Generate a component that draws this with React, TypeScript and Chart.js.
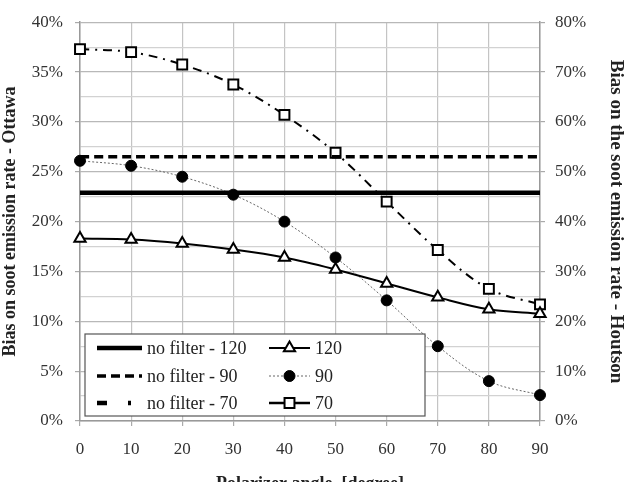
import React, { useEffect, useRef } from "react";
import { Chart, registerables } from "chart.js";
import { drawPoint } from "chart.js/helpers";

Chart.register(...registerables);

const angles = [0, 10, 20, 30, 40, 50, 60, 70, 80, 90];
const ottawa120 = [18.3, 18.2, 17.8, 17.2, 16.4, 15.2, 13.8, 12.4, 11.2, 10.75];
const ottawa90 = [26.1, 25.6, 24.5, 22.7, 20.0, 16.4, 12.1, 7.5, 4.0, 2.6];
const houtson70 = [74.6, 74.0, 71.5, 67.5, 61.4, 53.8, 44.0, 34.3, 26.5, 23.4];
const noFilter120 = 22.9;
const noFilter90 = 26.5;
const leftTicksMax = 40;
const rightTicksMax = 80;
const seriesLabels = ["no filter - 120", "no filter - 90", "no filter - 70", "120", "90", "70"];

const FONT = '"Liberation Serif", "Times New Roman", serif';

const pts = (ys: number[]) => angles.map((a, i) => ({ x: a, y: ys[i] }));
const flat = (v: number) => [
  { x: angles[0], y: v },
  { x: angles[angles.length - 1], y: v },
];

const boxLegend = {
  id: "boxLegend",
  afterDraw(chart: any) {
    const { ctx, chartArea } = chart;
    const left = chartArea.left + 5;
    const w = 340;
    const h = 82;
    const top = chartArea.bottom - 5 - h;
    ctx.save();
    ctx.fillStyle = "#ffffff";
    ctx.fillRect(left, top, w, h);
    ctx.strokeStyle = "#555";
    ctx.lineWidth = 1.2;
    ctx.strokeRect(left, top, w, h);
    const rows = [14, 42, 69];
    const cols = [
      { s: 12, e: 57, t: 62 },
      { s: 184, e: 225, t: 230 },
    ];
    chart.data.datasets.forEach((ds: any, i: number) => {
      const c = cols[Math.floor(i / 3)];
      const y = top + rows[i % 3];
      const x1 = left + c.s;
      const x2 = left + c.e;
      ctx.save();
      ctx.strokeStyle = ds.borderColor;
      ctx.lineWidth = ds.legendLineWidth ?? ds.borderWidth;
      ctx.setLineDash(ds.legendDash ?? ds.borderDash ?? []);
      ctx.beginPath();
      ctx.moveTo(x1, y);
      ctx.lineTo(x2, y);
      ctx.stroke();
      ctx.restore();
      if (ds.pointRadius > 0) {
        ctx.save();
        ctx.setLineDash([]);
        ctx.fillStyle = ds.pointBackgroundColor;
        ctx.strokeStyle = ds.pointBorderColor;
        ctx.lineWidth = ds.pointBorderWidth;
        drawPoint(
          ctx,
          { pointStyle: ds.pointStyle, radius: ds.pointRadius, rotation: 0, borderWidth: ds.pointBorderWidth },
          (x1 + x2) / 2,
          y
        );
        ctx.restore();
      }
      ctx.fillStyle = "#222";
      ctx.font = `18px ${FONT}`;
      ctx.textBaseline = "middle";
      ctx.textAlign = "left";
      ctx.fillText(ds.label, left + c.t, y + 1);
    });
    ctx.restore();
  },
};

export default function App() {
  const ref = useRef<HTMLCanvasElement>(null);
  useEffect(() => {
    if (!ref.current) return;
    const chart = new Chart(ref.current, {
      type: "line",
      data: {
        datasets: [
          {
            label: seriesLabels[0],
            data: flat(noFilter120),
            borderColor: "#000",
            borderWidth: 4.5,
            pointRadius: 0,
            yAxisID: "y",
            clip: false,
          },
          {
            label: seriesLabels[1],
            data: flat(noFilter90),
            borderColor: "#000",
            borderWidth: 3.5,
            borderDash: [9, 5],
            pointRadius: 0,
            yAxisID: "y",
            clip: false,
          },
          {
            label: seriesLabels[2],
            data: [],
            borderColor: "#000",
            borderWidth: 4.5,
            borderDash: [10, 21, 3, 21],
            pointRadius: 0,
            yAxisID: "y1",
          },
          {
            label: seriesLabels[3],
            data: pts(ottawa120),
            borderColor: "#000",
            borderWidth: 2,
            pointStyle: "triangle",
            pointRadius: 6.5,
            pointBorderWidth: 2,
            pointBackgroundColor: "#fff",
            pointBorderColor: "#000",
            yAxisID: "y",
            clip: false,
          },
          {
            label: seriesLabels[4],
            data: pts(ottawa90),
            borderColor: "#666",
            borderWidth: 1,
            borderDash: [2, 2],
            pointStyle: "circle",
            pointRadius: 5.5,
            pointBorderWidth: 1,
            pointBackgroundColor: "#000",
            pointBorderColor: "#000",
            yAxisID: "y",
            clip: false,
          },
          {
            label: seriesLabels[5],
            data: pts(houtson70),
            borderColor: "#000",
            borderWidth: 2,
            borderDash: [9, 6, 2, 6],
            legendDash: [],
            legendLineWidth: 2.5,
            pointStyle: "rect",
            pointRadius: 7,
            pointBorderWidth: 2,
            pointBackgroundColor: "#fff",
            pointBorderColor: "#000",
            yAxisID: "y1",
            clip: false,
          },
        ] as any,
      },
      options: {
        animation: false,
        responsive: false,
        maintainAspectRatio: false,
        layout: { padding: { top: 14, left: 0, right: 0, bottom: 0 } },
        plugins: { legend: { display: false }, tooltip: { enabled: false } },
        elements: { line: { tension: 0.35 } },
        scales: {
          x: {
            type: "linear",
            min: 0,
            max: 90,
            ticks: { stepSize: 10, color: "#333", font: { family: FONT, size: 17 }, padding: 13 },
            grid: { color: "#c4c4c4", lineWidth: 1.2, tickLength: 5, tickColor: "#aaa" },
            border: { color: "#999", width: 1.5 },
            title: {
              display: true,
              text: "Polarizer angle  [degree]",
              color: "#222",
              font: { family: FONT, size: 18, weight: "bold" },
              padding: { top: 0, bottom: -13 },
            },
            afterFit: (s: any) => {
              s.height = 61;
            },
          },
          y: {
            type: "linear",
            position: "left",
            min: 0,
            max: leftTicksMax,
            ticks: {
              stepSize: 2.5,
              autoSkip: false,
              color: "#333",
              font: { family: FONT, size: 17 },
              padding: 12,
              callback: (v: any) => (Number(v) % 5 === 0 ? `${v}%` : ""),
            },
            grid: {
              color: (c: any) => (c.tick && c.tick.value % 5 === 0 ? "#b8b8b8" : "#d2d2d2"),
              lineWidth: 1.2,
              tickLength: 5,
              tickColor: (c: any) => (c.tick && c.tick.value % 5 === 0 ? "#aaa" : "rgba(0,0,0,0)"),
            },
            border: { color: "#999", width: 1.5 },
            title: {
              display: true,
              text: "Bias on soot emission rate - Ottawa",
              color: "#222",
              font: { family: FONT, size: 18, weight: "bold" },
              padding: { top: 0, bottom: 0 },
            },
            afterFit: (s: any) => {
              s.width = 80;
            },
          },
          y1: {
            type: "linear",
            position: "right",
            min: 0,
            max: rightTicksMax,
            ticks: {
              stepSize: 10,
              color: "#333",
              font: { family: FONT, size: 17 },
              padding: 10,
              callback: (v: any) => `${v}%`,
            },
            grid: { drawOnChartArea: false, tickLength: 5, tickColor: "#aaa", lineWidth: 1.2 },
            border: { color: "#999", width: 1.5 },
            title: {
              display: true,
              text: "Bias on the soot emission rate - Houtson",
              color: "#222",
              font: { family: FONT, size: 19, weight: "bold" },
              padding: { top: 0, bottom: 0 },
            },
            afterFit: (s: any) => {
              s.width = 87;
            },
          },
        },
      } as any,
      plugins: [boxLegend],
    });
    return () => chart.destroy();
  }, []);
  return (
    <div style={{ position: "fixed", left: 0, top: 0, width: 627, height: 482, background: "#fff" }}>
      <canvas ref={ref} width={627} height={482} style={{ width: 627, height: 482 }} />
    </div>
  );
}
